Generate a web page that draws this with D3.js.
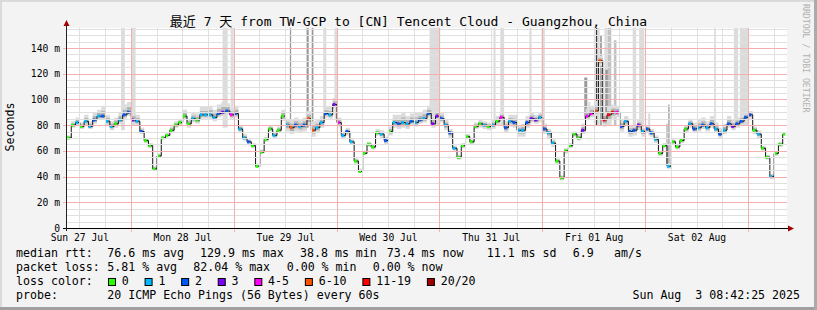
<!DOCTYPE html>
<html>
<head>
<meta charset="utf-8">
<script src="https://cdn.jsdelivr.net/npm/d3@7"></script>
<style>
  body { margin: 0; background: #f3f3f3; }
  svg { display: block; font-family: "DejaVu Sans Mono", "Noto Sans CJK SC", monospace; }
</style>
</head>
<body>
<svg id="chart" width="817" height="310"></svg>
<script>
// ---- data (one value per hour, 7 days) ----
const title = "最近 7 天 from TW-GCP to [CN] Tencent Cloud - Guangzhou, China";
const startTime = new Date(2025, 6, 27, 9, 7);
const hours = 168;

const median = [
  70, 80, 82, 79, 83, 79, 84, 87, 87, 83,
  79, 81, 84, 88, 90, 84, 83, 75, 68, 64,
  46, 56, 70, 72, 76, 80, 82, 87, 81, 85,
  84, 88, 88, 88, 86, 89, 90, 91, 88, 89,
  77, 70, 67, 64, 48, 59, 69, 77, 72, 76,
  87, 80, 78, 80, 79, 80, 85, 76, 78, 82,
  89, 88, 96, 82, 72, 75, 67, 52, 44, 58,
  65, 63, 74, 73, 68, 75, 82, 81, 82, 81,
  83, 82, 84, 85, 89, 81, 87, 85, 80, 74,
  62, 55, 64, 71, 67, 79, 81, 80, 79, 80,
  83, 86, 78, 83, 82, 76, 76, 82, 85, 84,
  86, 77, 74, 66, 52, 39, 60, 64, 73, 70,
  76, 87, 89, 91, 130, 84, 88, 90, 90, 79,
  83, 75, 76, 80, 75, 77, 74, 69, 58, 64,
  48, 67, 63, 68, 77, 81, 77, 78, 80, 78,
  81, 77, 73, 76, 81, 79, 81, 83, 86, 88,
  76, 73, 62, 55, 40, 58, 65, 73
];

// lost pings out of 20
const loss = [
  0, 0, 1, 0, 1, 1, 2, 1, 2, 1,
  1, 0, 1, 2, 2, 3, 1, 2, 0, 0,
  0, 0, 0, 0, 0, 0, 0, 0, 0, 1,
  0, 1, 1, 1, 1, 2, 3, 2, 4, 2,
  1, 1, 2, 0, 0, 0, 0, 0, 1, 0,
  0, 1, 6, 2, 1, 2, 6, 6, 1, 1,
  2, 1, 3, 4, 1, 2, 1, 0, 0, 0,
  0, 0, 0, 1, 2, 0, 1, 2, 1, 1,
  2, 1, 2, 1, 2, 3, 3, 2, 1, 2,
  1, 0, 0, 0, 0, 0, 0, 1, 0, 1,
  0, 4, 2, 1, 2, 1, 1, 2, 3, 3,
  1, 2, 1, 1, 0, 0, 0, 0, 0, 0,
  3, 4, 4, 6, 6, 12, 12, 12, 4, 2,
  1, 2, 2, 3, 1, 2, 2, 1, 0, 0,
  1, 0, 0, 0, 0, 1, 2, 1, 2, 1,
  2, 1, 2, 1, 2, 3, 2, 2, 2, 2,
  0, 1, 0, 0, 1, 0, 0, 0
];

// smoke extent above / below the median (ms)
const smokeUp = [
  2, 3, 4, 3, 5, 4, 6, 5, 8, 5,
  4, 5, 6, 8, 8, 6, 5, 3, 2, 2,
  2, 2, 2, 2, 3, 3, 3, 5, 4, 5,
  5, 6, 6, 7, 6, 7, 8, 6, 5, 6,
  3, 3, 2, 2, 2, 2, 2, 3, 3, 3,
  5, 5, 6, 6, 5, 6, 6, 7, 6, 5,
  5, 6, 5, 4, 3, 3, 2, 2, 2, 2,
  2, 2, 3, 3, 3, 4, 6, 7, 8, 6,
  6, 8, 6, 7, 6, 6, 5, 5, 4, 3,
  2, 2, 2, 2, 2, 3, 3, 3, 3, 4,
  4, 4, 5, 5, 6, 4, 5, 5, 5, 4,
  4, 4, 3, 3, 2, 2, 2, 2, 2, 3,
  5, 6, 6, 8, 4, 6, 6, 6, 5, 5,
  4, 5, 4, 4, 3, 3, 3, 3, 2, 2,
  2, 2, 2, 2, 3, 4, 5, 7, 6, 5,
  6, 5, 5, 5, 6, 5, 5, 5, 4, 3,
  3, 3, 2, 2, 2, 2, 2, 2
];
const smokeDown = [
  1, 2, 2, 2, 3, 2, 3, 3, 3, 3,
  3, 3, 3, 3, 3, 3, 3, 2, 2, 2,
  1, 1, 1, 1, 2, 2, 2, 3, 3, 3,
  3, 3, 3, 3, 3, 3, 3, 3, 3, 3,
  3, 2, 2, 2, 1, 1, 2, 2, 2, 2,
  4, 5, 5, 5, 5, 5, 5, 5, 4, 4,
  3, 3, 3, 3, 3, 3, 2, 2, 1, 1,
  2, 2, 2, 3, 3, 3, 4, 4, 4, 4,
  3, 3, 3, 3, 3, 3, 3, 3, 4, 4,
  2, 2, 2, 2, 2, 2, 3, 3, 3, 3,
  3, 3, 4, 4, 4, 5, 5, 4, 3, 3,
  4, 4, 4, 3, 2, 2, 2, 2, 2, 2,
  3, 3, 3, 4, 4, 5, 8, 5, 4, 4,
  4, 4, 4, 4, 4, 3, 3, 3, 2, 2,
  2, 2, 2, 2, 3, 3, 3, 3, 3, 3,
  3, 3, 3, 3, 3, 3, 3, 3, 3, 3,
  3, 3, 2, 2, 2, 2, 2, 2
];

// tall smoke bars: [fromHour, toHour, low ms, high ms, shade]
const spikes = [
  [12.6, 13.5, 76, 160, 0], [15.0, 16.0, 80, 160, 0],
  [36.3, 37.5, 78, 160, 0], [38.2, 38.9, 85, 160, 0],
  [52.0, 52.3, 78, 160, 2], [55.9, 56.4, 78, 160, 2],
  [57.1, 57.5, 78, 160, 2], [59.8, 60.5, 85, 160, 0],
  [62.4, 63.1, 85, 160, 0], [84.6, 87.1, 80, 160, 0],
  [99.5, 100.0, 80, 160, 0], [101.1, 102.0, 80, 160, 0],
  [107.9, 108.4, 80, 160, 0], [110.7, 111.5, 76, 160, 0],
  [120.7, 121.4, 85, 117, 2], [121.6, 122.1, 88, 98, 0],
  [123.7, 124.3, 80, 160, 0], [125.4, 126.2, 80, 160, 0],
  [126.2, 127.0, 80, 160, 1], [127.6, 128.2, 80, 146, 1],
  [124.4, 124.8, 80, 150, 2], [125.6, 126.2, 80, 123, 2],
  [123.4, 123.7, 80, 160, 3], [132.0, 132.8, 78, 160, 0],
  [133.5, 134.7, 78, 160, 0], [135.6, 136.1, 72, 89, 0],
  [139.8, 140.2, 50, 81, 1], [140.3, 140.6, 50, 96, 2],
  [151.0, 151.4, 78, 160, 0], [155.6, 156.6, 80, 160, 0],
  [157.0, 159.1, 80, 160, 0]
];

const yTicks = [0, 20, 40, 60, 80, 100, 120, 140];
const xTickLabels = ["Sun 27 Jul", "Mon 28 Jul", "Tue 29 Jul", "Wed 30 Jul", "Thu 31 Jul", "Fri 01 Aug", "Sat 02 Aug"];

const lossLabels = ["0", "1", "2", "3", "4-5", "6-10", "11-19", "20/20"];
const lossColors = ["#26ff00", "#00b8ff", "#0059ff", "#7e00ff", "#ff00ff", "#ff5500", "#ff0000", "#a00000"];
const lossUpper = [0, 1, 2, 3, 5, 10, 19, 20];

const rttStats = ["76.6 ms avg", "129.9 ms max", "38.8 ms min", "73.4 ms now", "11.1 ms sd", "6.9", "am/s"];
const lossStats = ["5.81 % avg", "82.04 % max", "0.00 % min", "0.00 % now"];
const probeText = "20 ICMP Echo Pings (56 Bytes) every 60s";
const stampText = "Sun Aug  3 08:42:25 2025";

// ---- drawing ----
const svg = d3.select('#chart');
const smokeShades = ["#dcdcdc", "#c2c2c2", "#9a9a9a", "#3a3a3a"];

const endTime = d3.timeHour.offset(startTime, hours);
const hourTime = h => new Date(+startTime + h * 3600e3);

const x = d3.scaleTime().domain([startTime, endTime]).range([67, 787]);
const y = d3.scaleLinear().domain([0, 155.5]).range([228, 28]);

// frame
svg.append('rect').attr('width', 817).attr('height', 310).attr('fill', '#f3f3f3');
svg.append('rect').attr('width', 817).attr('height', 2).attr('fill', '#dadada');
svg.append('rect').attr('width', 2).attr('height', 310).attr('fill', '#dadada');
svg.append('rect').attr('x', 0).attr('y', 307).attr('width', 817).attr('height', 3).attr('fill', '#a0a0a0');
svg.append('rect').attr('x', 814).attr('y', 0).attr('width', 3).attr('height', 310).attr('fill', '#ababab');

svg.append('rect')
  .attr('x', 67).attr('y', 28)
  .attr('width', 720).attr('height', 200)
  .attr('fill', '#ffffff');

svg.append('clipPath').attr('id', 'plotClip')
  .append('rect').attr('x', 67).attr('y', 28).attr('width', 720).attr('height', 200);

const plot = svg.append('g').attr('clip-path', 'url(#plotClip)');

let points = median.map((v, i) => ({
  t: hourTime(i), v: v, up: smokeUp[i], dn: smokeDown[i], loss: loss[i]
}));

// tall smoke bars
plot.append('g').selectAll('rect')
  .data(spikes.slice().sort((a, b) => a[4] - b[4]))
  .join('rect')
  .attr('x', d => x(hourTime(d[0])))
  .attr('width', d => Math.max(1, x(hourTime(d[1])) - x(hourTime(d[0]))))
  .attr('y', d => y(d[3]))
  .attr('height', d => y(d[2]) - y(d[3]))
  .attr('fill', d => smokeShades[d[4]]);

// smoke around the median
plot.append('path')
  .datum(points)
  .attr('fill', smokeShades[0])
  .attr('d', d3.area().curve(d3.curveStepAfter)
    .x(d => x(d.t))
    .y0(d => y(d.v - d.dn))
    .y1(d => y(d.v + d.up)));

plot.append('path')
  .datum(points)
  .attr('fill', '#b4b4b4')
  .attr('d', d3.area().curve(d3.curveStepAfter)
    .x(d => x(d.t))
    .y0(d => y(d.v - d.dn / 2))
    .y1(d => y(d.v + d.up / 2)));

// grid (fine dotted lines drawn in their averaged tone)
let grid = svg.append('g').attr('shape-rendering', 'crispEdges').attr('stroke-width', 1);
let minorH = d3.range(5, 156, 5).filter(v => v % 20 !== 0);
let minorV = d3.timeHour.every(6).range(startTime, endTime).filter(d => d.getHours() !== 0);
let majorV = d3.timeDay.range(startTime, endTime);
let px = v => Math.round(v) + 0.5;

grid.append('g').selectAll('line').data(minorH).join('line')
  .attr('x1', 67).attr('x2', 787)
  .attr('y1', d => px(y(d))).attr('y2', d => px(y(d)))
  .attr('stroke', '#e0e0e0');

grid.append('g').selectAll('line').data(minorV).join('line')
  .attr('x1', d => px(x(d))).attr('x2', d => px(x(d)))
  .attr('y1', 28).attr('y2', 228)
  .attr('stroke', '#e0e0e0');

grid.append('g').selectAll('line').data(yTicks.filter(v => v > 0)).join('line')
  .attr('x1', 63).attr('x2', 787)
  .attr('y1', d => px(y(d))).attr('y2', d => px(y(d)))
  .attr('stroke', '#f4b0b0');

grid.append('g').selectAll('line').data(majorV).join('line')
  .attr('x1', d => px(x(d))).attr('x2', d => px(x(d)))
  .attr('y1', 28).attr('y2', 232)
  .attr('stroke', '#f4b0b0');

// median line and loss colours
plot.append('path')
  .datum(points)
  .attr('fill', 'none')
  .attr('stroke', '#151515')
  .attr('stroke-width', 1)
  .attr('d', d3.line().curve(d3.curveStepAfter).x(d => x(d.t)).y(d => y(d.v)));

let lossIndex = n => lossUpper.findIndex(u => n <= u);

plot.append('g').selectAll('rect')
  .data(points)
  .join('rect')
  .attr('x', d => x(d.t))
  .attr('y', d => y(d.v) - 1.5)
  .attr('width', 2.6)
  .attr('height', 3)
  .attr('fill', d => lossColors[lossIndex(d.loss)]);

// axes
let axes = svg.append('g');
axes.append('line').attr('x1', 63).attr('x2', 789).attr('y1', 228.5).attr('y2', 228.5)
  .attr('stroke', '#000');
axes.append('line').attr('x1', 66.5).attr('x2', 66.5).attr('y1', 231).attr('y2', 25)
  .attr('stroke', '#222');
axes.append('path').attr('d', 'M788,225.5 L794,228.5 L788,231.5 Z').attr('fill', '#a00000');
axes.append('path').attr('d', 'M63.5,26 L66.5,20 L69.5,26 Z').attr('fill', '#a00000');

let yAxis = svg.append('g')
  .attr('transform', 'translate(60,0)')
  .call(d3.axisLeft(y).tickValues(yTicks).tickSize(0).tickPadding(0)
    .tickFormat(v => v === 0 ? '0' : v + ' m'));
yAxis.select('.domain').remove();
yAxis.selectAll('text')
  .attr('dy', '0.32em')
  .attr('font-family', '"DejaVu Sans Mono", monospace')
  .attr('font-size', '9.7px')
  .attr('fill', '#000');

let noons = d3.timeDay.range(d3.timeDay.floor(startTime), endTime)
  .map(d => d3.timeHour.offset(d, 12))
  .filter(d => d >= startTime && d <= endTime);

let xAxis = svg.append('g')
  .attr('transform', 'translate(0,234)')
  .call(d3.axisBottom(x).tickValues(noons).tickSize(0).tickPadding(0)
    .tickFormat((d, i) => xTickLabels[i]));
xAxis.select('.domain').remove();
xAxis.selectAll('text')
  .attr('font-family', '"DejaVu Sans Mono", monospace')
  .attr('font-size', '9.7px')
  .attr('fill', '#000');

// titles
svg.append('text')
  .attr('x', 408.5).attr('y', 26)
  .attr('text-anchor', 'middle')
  .attr('font-size', '13px')
  .attr('fill', '#000')
  .text(title);

svg.append('text')
  .attr('transform', 'translate(14,127) rotate(-90)')
  .attr('text-anchor', 'middle')
  .attr('font-size', '11.6px')
  .attr('fill', '#000')
  .text('Seconds');

svg.append('text')
  .attr('transform', 'translate(803,4) rotate(90)')
  .attr('font-size', '8.2px')
  .attr('fill', '#b0b0b0')
  .text('RRDTOOL / TOBI OETIKER');

// legend
let legend = svg.append('g').attr('font-size', '11.6px').attr('fill', '#000');
let rttX = [107.3, 200, 300, 386.7, 486.7, 572.7, 614];
let lossX = [107.3, 193.3, 286.7, 372.7];

legend.append('text').attr('x', 16).attr('y', 257).text('median rtt:');
legend.append('g').selectAll('text').data(rttStats).join('text')
  .attr('x', (d, i) => rttX[i]).attr('y', 257).text(d => d);

legend.append('text').attr('x', 16).attr('y', 271).text('packet loss:');
legend.append('g').selectAll('text').data(lossStats).join('text')
  .attr('x', (d, i) => lossX[i]).attr('y', 271).text(d => d);

legend.append('text').attr('x', 16).attr('y', 285).text('loss color:');
let bx = 108.5;
lossLabels.forEach((lab, i) => {
  legend.append('rect')
    .attr('x', bx).attr('y', 278.5)
    .attr('width', 7).attr('height', 7)
    .attr('fill', lossColors[i])
    .attr('stroke', '#000').attr('stroke-width', 1);
  legend.append('text').attr('x', bx + 13.3).attr('y', 285).text(lab);
  bx = bx + 13.3 + lab.length * 6.98 + 16.3;
});

legend.append('text').attr('x', 16).attr('y', 299).text('probe:');
legend.append('text').attr('x', 107.3).attr('y', 299).text(probeText);
legend.append('text').attr('x', 800).attr('y', 299).attr('text-anchor', 'end')
  .style('white-space', 'pre').text(stampText);
</script>
</body>
</html>
